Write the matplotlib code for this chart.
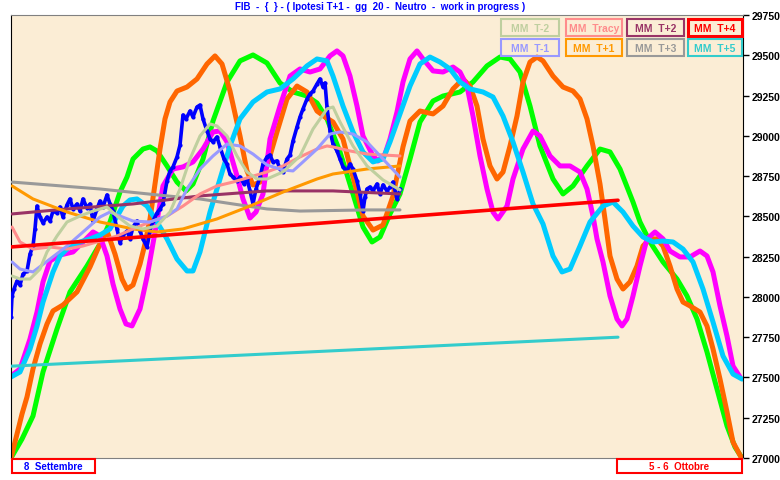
import matplotlib
matplotlib.use("Agg")
import matplotlib.pyplot as plt
from matplotlib.patches import Rectangle

plt.rcParams['font.family'] = ['Liberation Sans', 'DejaVu Sans']
plt.rcParams['lines.solid_joinstyle'] = 'round'
plt.rcParams['lines.solid_capstyle'] = 'round'

# time steps (sessions) from 8 Settembre to 5-6 Ottobre
T_END = 732

# big projected cycles
green_t = [0, 11, 22, 32, 46, 59, 76, 89, 99, 109, 116, 122, 132, 139, 146, 156, 166, 175, 182, 192,
           202, 216, 229, 242, 256, 269, 282, 296, 306, 316, 329, 342, 352, 361, 369, 379, 389, 399,
           409, 422, 432, 449, 462, 476, 489, 499, 509, 519, 529, 542, 552, 562, 576, 589, 599, 609,
           622, 629, 639, 652, 666, 676, 686, 696, 706, 716, 724, 731]
green_v = [27000, 27118, 27261, 27534, 27801, 28031, 28192, 28329, 28465, 28651, 28744, 28856, 28918,
           28931, 28906, 28813, 28713, 28658, 28701, 28856, 29092, 29334, 29465, 29502, 29452, 29328,
           29272, 29247, 29204, 29105, 28900, 28639, 28434, 28341, 28372, 28515, 28639, 28856, 29086,
           29216, 29247, 29272, 29334, 29434, 29489, 29477, 29396, 29185, 28937, 28732, 28639, 28689,
           28813, 28918, 28900, 28794, 28589, 28465, 28341, 28217, 28111, 28006, 27863, 27658, 27428,
           27199, 27068, 27000]

orange_t = [0, 4, 11, 16, 22, 29, 36, 42, 52, 66, 79, 89, 96, 104, 111, 116, 122, 129, 134, 139, 144,
            149, 154, 159, 166, 176, 186, 196, 204, 211, 219, 229, 236, 242, 249, 256, 266, 276, 286,
            296, 306, 314, 322, 332, 339, 346, 352, 362, 372, 382, 392, 399, 409, 422, 432, 442, 452,
            459, 466, 472, 479, 486, 492, 499, 506, 512, 519, 526, 532, 542, 552, 562, 569, 576, 582,
            589, 594, 599, 606, 612, 619, 626, 632, 639, 646, 652, 659, 666, 672, 679, 689, 696, 702,
            709, 716, 722, 730]
orange_v = [27000, 27099, 27273, 27379, 27553, 27708, 27832, 27913, 27950, 28031, 28186, 28329, 28409,
            28266, 28111, 28049, 28074, 28204, 28329, 28484, 28701, 28918, 29105, 29210, 29278, 29303,
            29353, 29446, 29496, 29446, 29278, 28999, 28782, 28695, 28713, 28813, 29024, 29229, 29309,
            29272, 29154, 29117, 29086, 28980, 28813, 28651, 28502, 28415, 28446, 28626, 28931, 29092,
            29154, 29136, 29185, 29291, 29353, 29309, 29185, 28980, 28813, 28732, 28775, 28937, 29123,
            29334, 29458, 29489, 29465, 29371, 29303, 29278, 29229, 29105, 28937, 28701, 28484, 28254,
            28111, 28049, 28093, 28192, 28316, 28360, 28360, 28316, 28192, 28049, 27968, 27944, 27906,
            27819, 27677, 27490, 27286, 27099, 27006]

magenta_t = [0, 9, 19, 26, 32, 39, 49, 62, 72, 82, 89, 96, 102, 109, 115, 121, 129, 136, 141, 146,
             152, 162, 172, 182, 192, 202, 209, 216, 226, 232, 239, 245, 252, 259, 269, 279, 289, 299,
             309, 319, 326, 332, 339, 346, 352, 362, 367, 374, 379, 386, 392, 399, 406, 412, 422, 432,
             442, 449, 456, 462, 469, 476, 482, 487, 496, 502, 512, 522, 529, 539, 549, 559, 569, 576,
             582, 586, 592, 599, 606, 611, 616, 622, 629, 636, 644, 652, 659, 669, 679, 689, 696, 702,
             709, 716, 722, 729]
magenta_v = [27509, 27553, 27739, 27906, 28093, 28223, 28260, 28279, 28341, 28403, 28378, 28254, 28080,
             27925, 27832, 27820, 27925, 28124, 28297, 28471, 28689, 28794, 28807, 28838, 28918, 29024,
             29030, 28962, 28751, 28608, 28490, 28527, 28639, 28980, 29185, 29371, 29415, 29396, 29415,
             29496, 29527, 29496, 29371, 29185, 28999, 28875, 28844, 28887, 28980, 29148, 29334, 29477,
             29527, 29477, 29403, 29396, 29427, 29396, 29309, 29123, 28875, 28670, 28527, 28484, 28564,
             28732, 28918, 29030, 28999, 28875, 28813, 28813, 28775, 28670, 28502, 28360, 28217, 28006,
             27863, 27820, 27863, 28006, 28192, 28360, 28403, 28360, 28285, 28248, 28248, 28285, 28254,
             28155, 27944, 27757, 27571, 27503]

cyan_t = [0, 9, 19, 26, 32, 42, 49, 59, 69, 79, 89, 99, 112, 119, 126, 136, 146, 156, 166, 176, 182,
          189, 199, 209, 219, 229, 242, 256, 269, 282, 296, 306, 316, 322, 332, 342, 352, 362, 372, 379,
          389, 399, 409, 419, 429, 439, 449, 459, 472, 482, 492, 502, 512, 522, 532, 542, 551, 559, 569,
          579, 592, 602, 612, 622, 632, 642, 652, 662, 672, 682, 692, 702, 712, 722, 731]
cyan_v = [27503, 27534, 27677, 27819, 27968, 28155, 28254, 28316, 28341, 28360, 28384, 28422, 28564,
          28602, 28608, 28564, 28465, 28360, 28235, 28161, 28161, 28279, 28527, 28732, 28937, 29105,
          29210, 29272, 29291, 29353, 29434, 29477, 29465, 29371, 29185, 29024, 28900, 28838, 28856,
          28962, 29136, 29309, 29446, 29489, 29458, 29415, 29334, 29291, 29272, 29241, 29123, 28962,
          28775, 28577, 28453, 28254, 28155, 28173, 28316, 28465, 28564, 28589, 28527, 28440, 28372,
          28341, 28347, 28341, 28297, 28217, 28049, 27844, 27633, 27521, 27490]

# FIB price
price_t = [0, 1, 3, 6, 9, 12, 16, 19, 22, 24, 26, 29, 32, 36, 39, 42, 46, 49, 52, 56, 59, 62, 66, 69,
           72, 76, 79, 82, 86, 89, 92, 96, 99, 102, 106, 109, 112, 116, 119, 122, 126, 129, 132, 136,
           139, 142, 146, 149, 152, 156, 159, 162, 166, 169, 172, 175, 179, 182, 186, 189, 192, 196,
           199, 202, 206, 209, 213, 216, 219, 222, 226, 229, 233, 236, 239, 242, 245, 249, 252, 256,
           259, 262, 266, 269, 272, 276, 279, 282, 286, 289, 292, 296, 299, 302, 306, 309, 312, 314,
           316, 319, 322, 326, 329, 332, 336, 339, 342, 346, 349, 352, 354, 356, 359, 362, 366, 369,
           372, 376, 379, 382, 386, 389]
price_v = [27875, 28006, 28049, 28099, 28074, 28142, 28161, 28266, 28316, 28422, 28564, 28496, 28459,
           28496, 28471, 28533, 28521, 28558, 28496, 28571, 28608, 28546, 28577, 28533, 28608, 28552,
           28577, 28471, 28546, 28595, 28558, 28633, 28577, 28533, 28422, 28335, 28384, 28409, 28360,
           28434, 28471, 28409, 28360, 28310, 28409, 28471, 28521, 28546, 28577, 28720, 28782, 28807,
           28869, 28943, 29129, 29105, 29154, 29117, 29179, 29191, 29105, 29030, 28980, 28962, 28993,
           28931, 28856, 28825, 28763, 28744, 28720, 28744, 28701, 28732, 28658, 28577, 28670, 28744,
           28825, 28869, 28881, 28838, 28844, 28794, 28776, 28856, 28881, 28968, 29055, 29117, 29167,
           29229, 29260, 29278, 29322, 29353, 29303, 29328, 29179, 29030, 28949, 28906, 28856, 28807,
           28782, 28825, 28794, 28720, 28639, 28533, 28620, 28670, 28682, 28658, 28701, 28639, 28695,
           28658, 28682, 28713, 28608, 28670]

# moving averages
mm_t2_t = [1, 9, 19, 29, 36, 46, 56, 69, 82, 96, 106, 119, 132, 146, 159, 169, 179, 189, 199, 206,
           216, 226, 236, 246, 256, 272, 289, 302, 316, 322, 329, 342, 356, 372, 389]
mm_t2_v = [28130, 28111, 28111, 28173, 28279, 28378, 28465, 28502, 28533, 28558, 28502, 28440, 28422,
           28440, 28527, 28670, 28856, 28999, 29074, 29061, 28999, 28875, 28776, 28732, 28732, 28776,
           28875, 29042, 29167, 29179, 29086, 28937, 28813, 28726, 28664]
mm_tracy_t = [1, 9, 22, 39, 56, 72, 89, 106, 122, 139, 156, 172, 189, 206, 222, 239, 256, 272, 289,
              306, 316, 322, 339, 356, 389]
mm_tracy_v = [28434, 28341, 28297, 28310, 28297, 28316, 28347, 28378, 28422, 28465, 28502, 28564, 28639,
              28689, 28713, 28744, 28776, 28813, 28869, 28918, 28937, 28931, 28906, 28887, 28875]
mm_t2p_t = [1, 56, 122, 189, 256, 322, 389]
mm_t2p_v = [28515, 28546, 28577, 28627, 28658, 28658, 28639]
mm_t4_t = [0, 607]
mm_t4_v = [28310, 28600]
mm_t1m_t = [1, 9, 22, 39, 56, 72, 89, 99, 109, 122, 139, 156, 166, 176, 189, 202, 216, 229, 242, 256,
            272, 282, 292, 306, 319, 329, 342, 356, 372, 389]
mm_t1m_v = [28217, 28173, 28155, 28235, 28316, 28403, 28496, 28527, 28502, 28471, 28465, 28502, 28546,
            28670, 28794, 28875, 28949, 28937, 28887, 28819, 28788, 28782, 28838, 28918, 29011, 29024,
            29011, 28962, 28856, 28744]
mm_t1p_t = [1, 22, 56, 89, 122, 146, 172, 206, 239, 272, 306, 322, 356, 389]
mm_t1p_v = [28689, 28608, 28527, 28465, 28422, 28403, 28422, 28484, 28564, 28651, 28732, 28763, 28794,
            28813]
mm_t3_t = [1, 89, 156, 189, 222, 256, 289, 356, 389]
mm_t3_v = [28713, 28670, 28627, 28608, 28577, 28546, 28533, 28540, 28540]
mm_t5_t = [0, 607]
mm_t5_v = [27570, 27750]

y_ticks = [27000, 27250, 27500, 27750, 28000, 28250, 28500, 28750, 29000, 29250, 29500, 29750]

fig = plt.figure(figsize=(7.8, 4.81), dpi=100)
ax = fig.add_axes([11 / 780, 1 - 459 / 481, 732 / 780, 443 / 481])
ax.set_facecolor('#FBEDD5')

ax.plot(green_t, green_v, color='#00FF00', lw=3.6, zorder=2)
ax.plot(orange_t, orange_v, color='#FF6600', lw=3.6, zorder=2)
ax.plot(magenta_t, magenta_v, color='#FF00FF', lw=3.6, zorder=2)
ax.plot(cyan_t, cyan_v, color='#00CCFF', lw=3.6, zorder=2)

ax.plot(price_t, price_v, color='#0000FF', lw=2.6, marker='.', ms=4, zorder=3)

ax.plot(mm_t3_t, mm_t3_v, color='#999999', lw=2.2, zorder=4)
ax.plot(mm_t2p_t, mm_t2p_v, color='#993366', lw=2.2, zorder=4)
ax.plot(mm_t1p_t, mm_t1p_v, color='#FF9900', lw=2.2, zorder=4)
ax.plot(mm_tracy_t, mm_tracy_v, color='#FF8C8C', lw=2.2, zorder=4)
ax.plot(mm_t1m_t, mm_t1m_v, color='#9999FF', lw=2.2, zorder=4)
ax.plot(mm_t2_t, mm_t2_v, color='#BFCF9F', lw=2.2, zorder=4)
ax.plot(mm_t4_t, mm_t4_v, color='#FF0000', lw=2.6, zorder=5)
ax.plot(mm_t5_t, mm_t5_v, color='#33CCCC', lw=2.2, zorder=5)

ax.set_xlim(0, T_END)
ax.set_ylim(27000, 29750)
ax.set_xticks([])
ax.yaxis.tick_right()
ax.set_yticks(y_ticks)
ax.tick_params(axis='y', length=4, width=1, labelsize=7.5, pad=2)
for lab in ax.get_yticklabels():
    lab.set_fontweight('bold')
ax.spines['left'].set_color('black')
ax.spines['right'].set_color('black')
ax.spines['top'].set_color('#808080')
ax.spines['bottom'].set_color('#808080')

fig.text(380 / 780, 1 - 7 / 481,
         'FIB  -  {  } - ( Ipotesi T+1 -  gg  20 -  Neutro  -  work in progress )',
         color='#0000FF', fontsize=7, fontweight='bold', ha='center', va='center')

# legend boxes
legend_labels = [['MM  T-2', 'MM  Tracy', 'MM  T+2', 'MM  T+4'],
                 ['MM  T-1', 'MM  T+1', 'MM  T+3', 'MM  T+5']]
legend_colors = [['#BFCF9F', '#FF8C8C', '#993366', '#FF0000'],
                 ['#9999FF', '#FF9900', '#999999', '#33CCCC']]
box_x = [501, 566, 627, 688]
box_w = [58, 56, 57, 54]
box_y = [20, 40]
for r in range(2):
    for c in range(4):
        x0, w, y0, h = box_x[c], box_w[c], box_y[r], 17
        col = legend_colors[r][c]
        lw = 2.2 if legend_labels[r][c] == 'MM  T+4' else 1.5
        fig.add_artist(Rectangle((x0 / 780, 1 - (y0 + h) / 481), w / 780, h / 481,
                                 transform=fig.transFigure, facecolor='none',
                                 edgecolor=col, lw=lw, zorder=10))
        fig.text((x0 + w / 2) / 780, 1 - (y0 + h / 2) / 481, legend_labels[r][c],
                 color=col, fontsize=7.5, fontweight='bold', ha='center', va='center', zorder=11)

# date boxes
for x0, w, txt, col in [(12, 83, '8  Settembre', '#0000FF'), (617, 125, '5 - 6  Ottobre', '#FF0000')]:
    fig.add_artist(Rectangle((x0 / 780, 1 - 474 / 481), w / 780, 14 / 481,
                             transform=fig.transFigure, facecolor='white',
                             edgecolor='#FF0000', lw=1.5))
    fig.text((x0 + w / 2) / 780, 1 - 467 / 481, txt, color=col, fontsize=7,
             fontweight='bold', ha='center', va='center')

fig.savefig('out.png', dpi=100)
